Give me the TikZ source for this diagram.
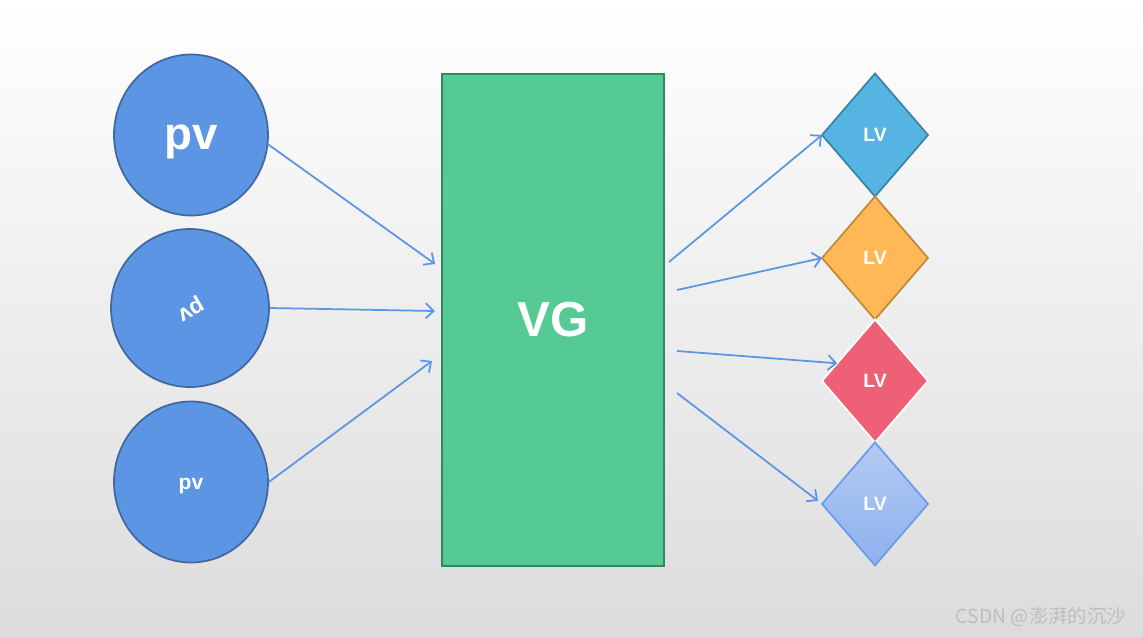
\documentclass[tikz,border=0pt]{standalone}
\usepackage{fontspec}
\setmainfont{Liberation Sans}
\newfontfamily\cjk{Noto Sans CJK SC}
\usepackage{graphicx}
\usepackage{tikz}
\usetikzlibrary{arrows.meta,positioning,shapes.geometric}
\definecolor{pvblue}{HTML}{5D95E5}
\definecolor{pvline}{HTML}{41699F}
\definecolor{vggreen}{HTML}{55CA95}
\definecolor{vgline}{HTML}{2E8A5E}
\definecolor{lvsky}{HTML}{56B4E2}
\definecolor{lvskyline}{HTML}{3A84A8}
\definecolor{lvorange}{HTML}{FFB855}
\definecolor{lvorangeline}{HTML}{BF8A3C}
\definecolor{lvred}{HTML}{EE6076}
\definecolor{lvtop}{HTML}{B3CBF3}
\definecolor{lvbot}{HTML}{8DB0EE}
\definecolor{lvblueline}{HTML}{6D9BE8}
\definecolor{arr}{HTML}{5B95E5}
\definecolor{bgmid}{HTML}{F4F4F4}
\definecolor{bgbot}{HTML}{DCDCDC}
\definecolor{wmgray}{HTML}{BDBDBD}
\newcommand{\fsz}[1]{\fontsize{#1}{#1}\selectfont}
\tikzset{
  pv/.style={ellipse, draw=pvline, line width=1pt, fill=pvblue, text=white, font=\bfseries, inner sep=0pt, minimum width=3.08cm, minimum height=3.22cm},
  vg/.style={rectangle, draw=vgline, line width=1pt, fill=vggreen, text=white, font=\bfseries\fsz{28}, minimum width=4.44cm, minimum height=9.84cm},
  lv/.style={diamond, line width=1pt, text=white, font=\bfseries\fsz{11}, inner sep=0pt, outer sep=0pt, minimum width=2.12cm, minimum height=2.46cm},
  link/.style={-{Straight Barb[length=1.6mm,width=3mm]}, arr, line width=1pt}
}

\begin{document}
\begin{tikzpicture}[x=0.02cm, y=-0.02cm]
\shade[top color=white, middle color=bgmid, bottom color=bgbot] (0,0) rectangle (1143,636);
\useasboundingbox (0,0) rectangle (1143,636);
% physical volumes
\node[pv] (c1) at (191,135) {\raisebox{-8.2pt}[0pt][0pt]{\fsz{26}pv}};
\node[pv, minimum width=3.16cm, minimum height=3.16cm] (c2) at (190,308) {\rotatebox{210}{\fsz{13}pv}};
\node[pv] (c3) at (191,482) {\raisebox{-4.5pt}[0pt][0pt]{\fsz{12}pv}};
% volume group
\node[vg] (vg) at (553,320) {VG};
% logical volumes
\node[lv, fill=lvsky, draw=lvskyline] (lv1) at (875,135) {LV};
\node[lv, fill=lvorange, draw=lvorangeline, below=0pt of lv1] (lv2) {LV};
\node[lv, fill=lvred, draw=white, below=0pt of lv2] (lv3) {LV};
\node[lv, top color=lvtop, bottom color=lvbot, draw=lvblueline, below=0pt of lv3] (lv4) {LV};
\coordinate (i1) at (435,264); \coordinate (i2) at (435,311); \coordinate (i3) at (432,361);
\coordinate (o1) at (669,262); \coordinate (o2) at (677,290); \coordinate (o3) at (677,351); \coordinate (o4) at (677,393);
\draw[link] (c1.-7) -- (i1); \draw[link] (c2.east) -- (i2); \draw[link] (c3.east) -- (i3);
\draw[link] (o1) -- (lv1.west); \draw[link] (o2) -- (lv2.west);
\draw[link] (o3) -- (lv3.155); \draw[link, shorten >=1mm] (o4) -- (lv4.west);
\node[anchor=east, text=wmgray, font=\cjk\fsz{11}] (wm) at (1132,617) {CSDN @澎湃的沉沙};
\end{tikzpicture}
\end{document}
